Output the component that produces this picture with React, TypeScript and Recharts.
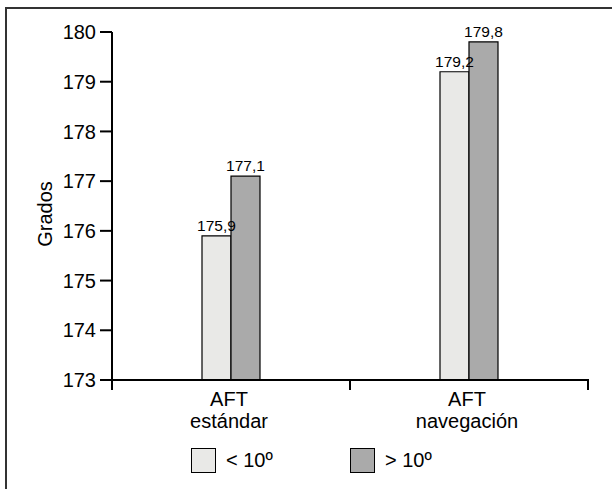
import { BarChart, Bar, XAxis, YAxis, LabelList, Label } from "recharts"

const categories = ["AFT\nestándar", "AFT\nnavegación"]
const underTen = [175.9, 179.2]
const overTen = [177.1, 179.8]
const yTicks = [173, 174, 175, 176, 177, 178, 179, 180]
const seriesNames = ["< 10º", "> 10º"]
const seriesColors = ["#e9e9e7", "#aaaaaa"]

const data = categories.map((name, i) => ({
  name,
  under: underTen[i],
  over: overTen[i],
}))

const FONT = "'Liberation Sans', Arial, Helvetica, sans-serif"

// category label plus tick marks at the band edges (ticks sit between categories)
function CategoryTick({ x, y, payload, index, width, visibleTicksCount }: any) {
  const lines = String(payload.value).split("\n")
  const count = visibleTicksCount || categories.length
  const band = (width || 476) / count
  const left = x - band / 2
  const right = x + band / 2
  const isLast = index === count - 1
  return (
    <g>
      <line x1={left} y1={y - 1} x2={left} y2={y + 10} stroke="#000" strokeWidth={2} />
      {isLast && (
        <line x1={right} y1={y - 1} x2={right} y2={y + 10} stroke="#000" strokeWidth={2} />
      )}
      <text x={x} y={y} textAnchor="middle" fill="#000" fontSize={20} fontFamily={FONT}>
        {lines.map((line, i) => (
          <tspan key={i} x={x - 2} dy={i === 0 ? 26 : 22}>
            {line}
          </tspan>
        ))}
      </text>
    </g>
  )
}

const commaFormat = (v: any) => String(v).replace(".", ",")

export default function App() {
  return (
    <div
      style={{
        position: "absolute",
        left: 0,
        top: 0,
        width: 612,
        height: 489,
        overflow: "hidden",
        background: "#fff",
        fontFamily: FONT,
      }}
    >
      {/* frame, only top and left edges show in the crop */}
      <div
        style={{
          position: "absolute",
          left: 5,
          top: 7,
          width: 607,
          height: 482,
          borderTop: "2px solid #333",
          borderLeft: "2px solid #333",
          boxSizing: "border-box",
        }}
      />
      <div style={{ position: "absolute", left: 0, top: 0 }}>
        <BarChart
          width={612}
          height={489}
          data={data}
          margin={{ top: 32, right: 24, bottom: 49, left: 42 }}
          barGap={0}
        >
          <XAxis
            dataKey="name"
            height={60}
            axisLine={{ stroke: "#000", strokeWidth: 2 }}
            tickLine={false}
            tickSize={0}
            tickMargin={0}
            tick={<CategoryTick />}
            interval={0}
          />
          <YAxis
            width={70}
            domain={[173, 180]}
            ticks={yTicks}
            interval={0}
            axisLine={{ stroke: "#000", strokeWidth: 2 }}
            tickLine={{ stroke: "#000", strokeWidth: 2 }}
            tickSize={12}
            tickMargin={4}
            tick={{ fill: "#000", fontSize: 20, fontFamily: FONT }}
          >
            <Label
              content={() => (
                <text
                  x={45}
                  y={214}
                  transform="rotate(-90 45 214)"
                  textAnchor="middle"
                  dominantBaseline="central"
                  fontSize={20}
                  fontFamily={FONT}
                  fill="#000"
                >
                  Grados
                </text>
              )}
            />
          </YAxis>
          <Bar
            dataKey="under"
            name={seriesNames[0]}
            fill={seriesColors[0]}
            stroke="#000"
            strokeWidth={1.2}
            barSize={29}
            isAnimationActive={false}
          >
            <LabelList
              dataKey="under"
              position="top"
              offset={5}
              formatter={commaFormat}
              fill="#000"
              fontSize={15.5}
              fontFamily={FONT}
            />
          </Bar>
          <Bar
            dataKey="over"
            name={seriesNames[1]}
            fill={seriesColors[1]}
            stroke="#000"
            strokeWidth={1.2}
            barSize={29}
            isAnimationActive={false}
          >
            <LabelList
              dataKey="over"
              position="top"
              offset={5}
              formatter={commaFormat}
              fill="#000"
              fontSize={15.5}
              fontFamily={FONT}
            />
          </Bar>
        </BarChart>
      </div>
      {/* legend */}
      {seriesNames.map((name, i) => (
        <div
          key={name}
          style={{
            position: "absolute",
            left: 191 + i * 159,
            top: 448,
            display: "flex",
            alignItems: "center",
            fontSize: 20,
            color: "#000",
          }}
        >
          <div
            style={{
              width: 25,
              height: 25,
              boxSizing: "border-box",
              border: "1px solid #000",
              background: seriesColors[i],
              marginRight: 10,
            }}
          />
          <span>{name}</span>
        </div>
      ))}
    </div>
  )
}
